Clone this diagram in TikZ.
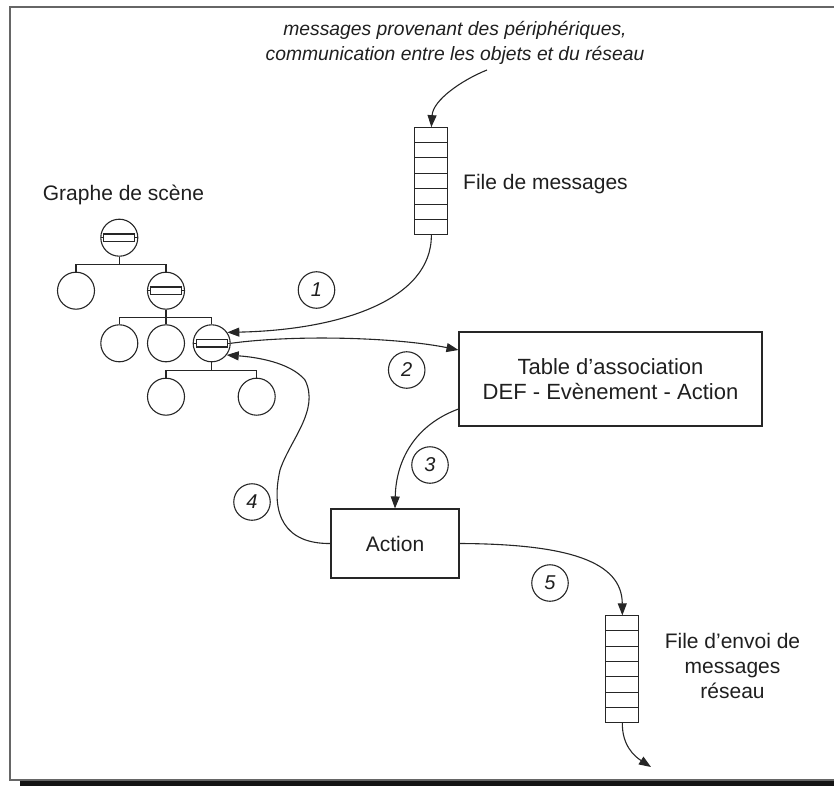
\documentclass[tikz,border=0pt]{standalone}
\usepackage{fontspec}
\setmainfont{Liberation Sans}
\usetikzlibrary{arrows.meta,calc}

\tikzset{
  ink/.style={draw=black!85, line width=1.1pt},
  lbl/.style={font=\fontsize{21}{25}\selectfont, text=black!88, inner sep=0pt},
  boxnode/.style={ink, rectangle, lbl, align=center},
  queue/.style={ink, rectangle, minimum width=33pt, minimum height=106.6pt, inner sep=0pt},
  leaf/.style={ink, circle, minimum size=37pt, inner sep=0pt},
  group/.style={leaf, path picture={
      \draw[ink] (path picture bounding box.west) -- (path picture bounding box.east);
      \draw[ink, fill=white]
        ($(path picture bounding box.center)+(-15.5pt,-3.7pt)$) rectangle
        ($(path picture bounding box.center)+(15.5pt,3.7pt)$);}},
  numc/.style={ink, circle, minimum size=36.5pt, inner sep=0pt,
    font=\fontsize{20}{24}\selectfont\itshape, text=black!88},
  flow/.style={ink, -{Triangle[length=12pt,width=9pt]}},
}

\begin{document}
\begin{tikzpicture}[x=1pt, y=-1pt]
\useasboundingbox (0,0) rectangle (834,786);

% frame with its dark shadow at the bottom
\draw[black!60, line width=1.4pt] (10,7) rectangle (840,780);
\fill[black!92] (20,781) rectangle (840,786);

% incoming messages
\node[lbl, font=\fontsize{19.3}{25}\selectfont\itshape, align=center] (src) at (455,43)
  {messages provenant des périphériques,\\communication entre les objets et du réseau};
\coordinate (srcend) at (487,70);

% message queue
\node[queue] (q1) at (431.35,181) {};
\foreach \k in {1,...,6}
  \draw[ink] ($(q1.north west)!\k/7!(q1.south west)$) -- ($(q1.north east)!\k/7!(q1.south east)$);
\node[lbl, anchor=west] (q1lbl) at (463,184) {File de messages};

% scene graph
\node[lbl, anchor=west] (sglbl) at (42.7,195) {Graphe de scène};
\node[group] (root) at (119.3,237.7) {};
\node[leaf]  (a1) at (76,290.7) {};
\node[group] (a2) at (166,290.7) {};
\node[leaf]  (b1) at (119.3,343.3) {};
\node[leaf]  (b2) at (166,343.3) {};
\node[group] (b3) at (211.7,343.3) {};
\node[leaf]  (c1) at (166,396.7) {};
\node[leaf]  (c2) at (256.7,396.7) {};

\draw[ink] (root.south) -- ++(0,8) -| (a1.north);
\draw[ink] (root.south) -- ++(0,8) -| (a2.north);
\draw[ink] (a2.south) -- ++(0,8) -| (b1.north);
\draw[ink] (a2.south) -- (b2.north);
\draw[ink] (a2.south) -- ++(0,8) -| (b3.north);
\draw[ink] (b3.south) -- ++(0,8) -| (c1.north);
\draw[ink] (b3.south) -- ++(0,8) -| (c2.north);

% association table and action
\node[boxnode, font=\fontsize{22}{25.5}\selectfont, minimum width=303pt, minimum height=94pt] (tab) at (610.5,379)
  {Table d’association\\DEF - Evènement - Action};
\node[boxnode, minimum width=128pt, minimum height=69pt] (act) at (395,543.5) {Action};

% outgoing queue
\node[queue] (q2) at (622.35,669.2) {};
\foreach \k in {1,...,6}
  \draw[ink] ($(q2.north west)!\k/7!(q2.south west)$) -- ($(q2.north east)!\k/7!(q2.south east)$);
\node[lbl, align=center] (q2lbl) at (732.5,666) {File d’envoi de\\messages\\réseau};
\coordinate (out) at (651,767);

% step numbers
\node[numc] (n1) at (316.5,290) {1};
\node[numc] (n2) at (406.7,370) {2};
\node[numc] (n3) at (430,465) {3};
\node[numc] (n4) at (252,502) {4};
\node[numc] (n5) at (550,583) {5};

% message flow
\draw[flow] (srcend) .. controls (462,80) and (433,100) .. (q1.north);
\draw[flow] (q1.south) .. controls (432,300) and (340,330) .. (b3.35);
\draw[flow] (b3.east) .. controls (300,334) and (400,338) .. ([yshift=29pt]tab.west);
\draw[flow] ([yshift=-30pt]tab.west) .. controls (415,425) and (396,460) .. (act.north);
\draw[flow] (act.west) .. controls (285,544) and (270,515) .. (280,470)
  .. controls (290,440) and (320,410) .. (305,380)
  .. controls (290,362) and (255,357) .. (b3.-38);
\draw[flow] (act.east) .. controls (570,544) and (622,562) .. (q2.north);
\draw[flow] (q2.south) .. controls (622,745) and (634,756) .. (out);
\end{tikzpicture}
\end{document}
